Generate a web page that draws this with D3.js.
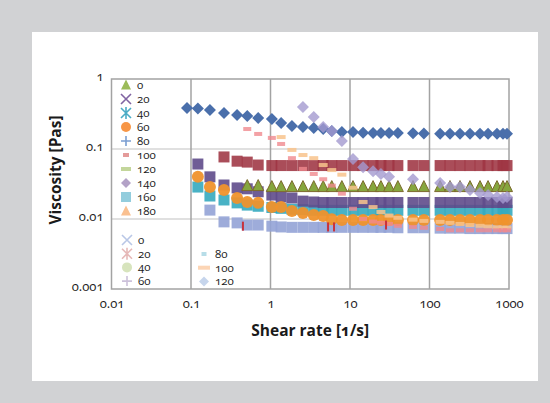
<!DOCTYPE html>
<html>
<head>
<meta charset="utf-8">
<script src="https://cdn.jsdelivr.net/npm/d3@7"></script>
<style>
body { margin: 0; background: #d1d2d4; }
text { font-family: "Open Sans", sans-serif; font-variant-numeric: oldstyle-nums; fill: #1a1a1a; }
</style>
</head>
<body>
<svg id="chart"></svg>
<script>
// shear rate steps [1/s]
var shearRate = [0.089, 0.122, 0.173, 0.26, 0.38, 0.51, 0.70, 1.04, 1.36, 1.86, 2.56, 3.5, 4.6, 5.9, 7.9,
    10.9, 14.6, 19.5, 24.5, 31, 40, 62, 85, 136, 181, 242, 323, 432, 545, 706, 841, 944];

// viscosity [Pas], one value per shear rate step (null = no point)
var blueDiamonds = [0.385, 0.38, 0.36, 0.327, 0.306, 0.296, 0.277, 0.268, 0.235, 0.213, 0.206, 0.2, 0.193, 0.181, 0.175,
    0.175, 0.17, 0.169, 0.169, 0.169, 0.169, 0.168, 0.167, 0.165, 0.165, 0.165, 0.165, 0.165, 0.165, 0.165, 0.165, 0.165];
var maroonSquares = [null, null, null, 0.077, 0.067, 0.065, 0.059, 0.058, 0.058, 0.058, 0.058, 0.058, 0.058, 0.058, 0.058,
    0.058, 0.058, 0.058, 0.058, 0.058, 0.058, 0.058, 0.058, 0.058, 0.058, 0.058, 0.058, 0.058, 0.058, 0.058, 0.058, 0.058];
var purpleSquares = [null, 0.061, 0.040, 0.0306, 0.0278, 0.027, 0.0245, 0.022, 0.0207, 0.020, 0.018, 0.0175, 0.0172, 0.0172, 0.0172,
    0.0172, 0.0172, 0.0172, 0.0172, 0.0172, 0.0172, 0.0172, 0.0172, 0.0172, 0.0172, 0.0172, 0.0172, 0.0172, 0.0172, 0.0172, 0.0172, 0.0172];
var cyanSquares = [null, 0.0286, 0.0213, 0.0187, 0.017, 0.0158, 0.0152, 0.0146, 0.0142, 0.0138, 0.0136, 0.0133, 0.0133, 0.0133, 0.0133,
    0.0133, 0.0133, 0.0133, 0.0133, 0.0133, 0.0133, 0.0133, 0.0133, 0.0133, 0.0133, 0.0133, 0.0133, 0.0133, 0.0133, 0.0133, 0.0133, 0.0133];
var orangeCircles = [null, 0.040, 0.0286, 0.026, 0.020, 0.0175, 0.017, 0.0148, 0.0148, 0.013, 0.0122, 0.0114, 0.011, 0.0099, 0.0097,
    0.0097, 0.0097, 0.0097, 0.0097, 0.0097, 0.0097, 0.0097, 0.0097, 0.0097, 0.0097, 0.0097, 0.0097, 0.0097, 0.0097, 0.0097, 0.0097, 0.0097];
var lightSquares = [null, null, 0.0134, 0.0091, 0.0088, 0.0082, 0.0082, 0.0079, 0.0077, 0.0076, 0.0076, 0.0076, 0.0076, 0.0076, 0.0076,
    0.0076, 0.0076, 0.0076, 0.0076, 0.0076, 0.0075, 0.0075, 0.0075, 0.0074, 0.0074, 0.0074, 0.0073, 0.0073, 0.0073, 0.0073, 0.0073, 0.0073];
var greenTriangles = [null, null, null, null, null, 0.030, 0.030, 0.029, 0.029, 0.029, 0.029, 0.029, 0.029, 0.029, 0.029,
    0.029, 0.029, 0.029, 0.029, 0.029, 0.029, 0.029, 0.029, 0.029, 0.029, 0.029, 0.029, 0.029, 0.029, 0.029, 0.029, 0.029];
var lavenderDiamonds = [null, null, null, null, null, null, null, null, null, null, 0.398, 0.287, 0.206, 0.181, 0.13,
    0.072, 0.055, 0.048, 0.044, 0.040, null, 0.037, null, 0.0326, 0.0286, 0.0286, 0.026, 0.0235, 0.022, 0.0206, 0.020, 0.0206];
var pinkDashes = [null, null, null, null, null, 0.193, 0.164, 0.144, 0.118, 0.074, 0.052, 0.044, 0.037, 0.030, 0.023,
    0.014, 0.010, 0.0092, 0.0088, 0.0085, 0.008, 0.0077, 0.0075, 0.0072, 0.0069, 0.0069, 0.0069, 0.0069, 0.0069, 0.0069, 0.0069, 0.0069];
var peachDashes = [null, null, null, null, null, null, null, null, 0.148, 0.097, 0.082, 0.074, 0.059, 0.050, 0.043,
    0.028, 0.0175, 0.0148, 0.0126, 0.0112, 0.0104, 0.0098, 0.0094, 0.0091, 0.0088, 0.0085, 0.0082, 0.008, 0.0078, 0.0076, 0.0075, 0.0075];

// stray red tick marks near the bottom band
var redTickRate = [0.45, 5.3, 6.3, 28.4];
var redTickVisc = [0.0079, 0.0077, 0.0077, 0.0082];

// legend entries (temperatures)
var legendLabels1 = ["0", "20", "40", "60", "80", "100", "120", "140", "160", "180"];
var legendLabels2 = ["0", "20", "40", "60"];
var legendLabels3 = ["80", "100", "120"];

var xTicks = [0.01, 0.1, 1, 10, 100, 1000];
var yTicks = [0.001, 0.01, 0.1, 1];

var W = 550, H = 403;
var svg = d3.select("#chart").attr("width", W).attr("height", H);

svg.append("rect").attr("width", W).attr("height", H).attr("fill", "#d1d2d4");
svg.append("rect").attr("x", 32).attr("y", 32).attr("width", 506).attr("height", 349).attr("fill", "#ffffff");

var x = d3.scaleLog().domain([0.01, 1000]).range([111.5, 509]);
var y = d3.scaleLog().domain([0.001, 1]).range([289, 79]);

// grid
svg.append("g").selectAll("line").data(yTicks.slice(1, 3)).enter().append("line")
    .attr("x1", x(0.01)).attr("x2", x(1000))
    .attr("y1", function(d) { return y(d); }).attr("y2", function(d) { return y(d); })
    .attr("stroke", "#d6d6d6").attr("stroke-width", 1.5);
svg.append("g").selectAll("line").data(xTicks.slice(1, 5)).enter().append("line")
    .attr("y1", y(1)).attr("y2", y(0.001))
    .attr("x1", function(d) { return x(d); }).attr("x2", function(d) { return x(d); })
    .attr("stroke", "#a3a3a3").attr("stroke-width", 1.5);
svg.append("rect")
    .attr("x", x(0.01)).attr("y", y(1))
    .attr("width", x(1000) - x(0.01)).attr("height", y(0.001) - y(1))
    .attr("fill", "none").attr("stroke", "#a3a3a3").attr("stroke-width", 1.5);

// axes
var xAxis = svg.append("g")
    .attr("transform", "translate(0," + (y(0.001) + 4) + ")")
    .call(d3.axisBottom(x).tickValues(xTicks).tickSize(0).tickPadding(6)
        .tickFormat(function(d) { return String(d); }));
var yAxis = svg.append("g")
    .attr("transform", "translate(" + (x(0.01) - 6) + ",0)")
    .call(d3.axisLeft(y).tickValues(yTicks).tickSize(0).tickPadding(2)
        .tickFormat(function(d) { return String(d); }));
[xAxis, yAxis].forEach(function(a) {
    a.select(".domain").remove();
    a.selectAll("text").attr("font-size", 13).attr("font-family", null).style("fill", "#1a1a1a");
});
yAxis.selectAll("text").attr("dy", "0.1em");

svg.append("text")
    .attr("x", (x(0.01) + x(1000)) / 2).attr("y", 336)
    .attr("text-anchor", "middle").attr("font-size", 15.5).attr("font-weight", "bold")
    .text("Shear rate [1/s]");
svg.append("text")
    .attr("transform", "translate(61," + 170 + ") rotate(-90)")
    .attr("text-anchor", "middle").attr("font-size", 15.5).attr("font-weight", "bold")
    .text("Viscosity [Pas]");

// marker drawing
function marker(g, shape, s, fill, stroke) {
    var p;
    if (shape == "square") {
        p = g.append("rect").attr("x", -s / 2).attr("y", -s / 2).attr("width", s).attr("height", s);
    } else if (shape == "diamond") {
        var a = s / Math.SQRT2;
        p = g.append("rect").attr("x", -a / 2).attr("y", -a / 2).attr("width", a).attr("height", a)
            .attr("transform", "rotate(45)");
    } else if (shape == "circle") {
        p = g.append("circle").attr("r", s / 2);
    } else if (shape == "triangle") {
        p = g.append("path").attr("d", "M0," + (-s * 0.55) + "L" + (s / 2) + "," + (s * 0.45) + "L" + (-s / 2) + "," + (s * 0.45) + "Z");
    } else if (shape == "dash") {
        p = g.append("rect").attr("x", -s / 2).attr("y", -2).attr("width", s).attr("height", 4);
    } else if (shape == "tick") {
        p = g.append("rect").attr("x", -1).attr("y", -s / 2).attr("width", 2).attr("height", s);
    } else {
        var h = s / 2, d = "";
        if (shape == "x" || shape == "asterisk") d += "M" + (-h) + "," + (-h) + "L" + h + "," + h + "M" + h + "," + (-h) + "L" + (-h) + "," + h;
        if (shape == "asterisk") d += "M0," + (-h * 1.2) + "L0," + (h * 1.2);
        if (shape == "plus") d += "M" + (-h) + ",0L" + h + ",0M0," + (-h) + "L0," + h;
        return g.append("path").attr("d", d).attr("fill", "none").attr("stroke", fill).attr("stroke-width", 1.6);
    }
    p.attr("fill", fill);
    if (stroke) p.attr("stroke", stroke).attr("stroke-width", 1);
    return p;
}

// series table built from the arrays above (drawing order = bottom to top)
var series = [
    { values: lightSquares, shape: "square", size: 11, fill: "#94a3d6", opacity: 0.9 },
    { values: cyanSquares, shape: "square", size: 11, fill: "#35aabf", opacity: 0.9 },
    { values: purpleSquares, shape: "square", size: 11, fill: "#5f4b8b", opacity: 0.9 },
    { values: orangeCircles, shape: "circle", size: 12, fill: "#ef922c", opacity: 0.95 },
    { values: maroonSquares, shape: "square", size: 11, fill: "#9e3442", opacity: 0.88 },
    { values: greenTriangles, shape: "triangle", size: 11, fill: "#86a63e", stroke: "#7d6a2e", opacity: 1 },
    { values: blueDiamonds, shape: "diamond", size: 12, fill: "#4a6fab", opacity: 1 },
    { values: lavenderDiamonds, shape: "diamond", size: 12, fill: "#a49ad0", opacity: 0.8 },
    { values: peachDashes, shape: "dash", size: 9, fill: "#f8c38c", opacity: 0.85 },
    { values: pinkDashes, shape: "dash", size: 8, fill: "#f08a8e", opacity: 0.8 }
];

var plot = svg.append("g");
series.forEach(function(s) {
    var pts = shearRate.map(function(r, i) { return { x: r, y: s.values[i] }; })
        .filter(function(d) { return d.y != null; });
    pts.forEach(function(d) {
        var g = plot.append("g")
            .attr("transform", "translate(" + x(d.x) + "," + y(d.y) + ")")
            .attr("opacity", s.opacity);
        marker(g, s.shape, s.size, s.fill, s.stroke);
    });
});
redTickRate.forEach(function(r, i) {
    var g = plot.append("g").attr("transform", "translate(" + x(r) + "," + y(redTickVisc[i]) + ")");
    marker(g, "tick", 9, "#c8323c");
});

// legend
var legendStyle1 = [
    { shape: "triangle", fill: "#9bbb59" },
    { shape: "x", fill: "#8064a2" },
    { shape: "asterisk", fill: "#4bacc6" },
    { shape: "circle", fill: "#f79646" },
    { shape: "plus", fill: "#7b9fd2" },
    { shape: "dash", fill: "#e49b9a", w: 6 },
    { shape: "dash", fill: "#c3d69b", w: 10 },
    { shape: "diamond", fill: "#b3a2c7" },
    { shape: "square", fill: "#93cddd" },
    { shape: "triangle", fill: "#fac090" }
];
var legendStyle2 = [
    { shape: "x", fill: "#b9c7e6" },
    { shape: "asterisk", fill: "#e6b9b8" },
    { shape: "circle", fill: "#d7e4bd" },
    { shape: "plus", fill: "#ccc1da" }
];
var legendStyle3 = [
    { shape: "dash", fill: "#b7dde8", w: 5 },
    { shape: "dash", fill: "#fcd5b5", w: 12 },
    { shape: "diamond", fill: "#c6d5ec" }
];

function legend(labels, styles, lx, ly, step) {
    labels.forEach(function(l, i) {
        var st = styles[i];
        var g = svg.append("g").attr("transform", "translate(" + lx + "," + (ly + i * step) + ")");
        marker(g, st.shape, st.w || 10, st.fill);
        g.append("text").attr("x", 11).attr("y", 4).attr("font-size", 11.5).text(l);
    });
}
legend(legendLabels1, legendStyle1, 126, 85, 14);
legend(legendLabels2, legendStyle2, 127, 240, 13.7);
legend(legendLabels3, legendStyle3, 204, 254, 13.7);
</script>
</body>
</html>
